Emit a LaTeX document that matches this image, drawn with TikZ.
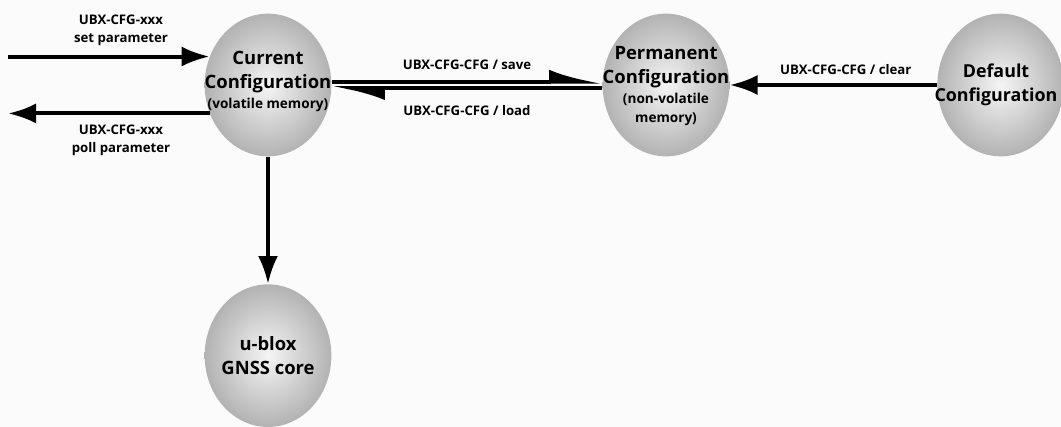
\documentclass[tikz,border=0pt]{standalone}
\usepackage{fontspec}
\setmainfont{Open Sans}
\usetikzlibrary{arrows.meta}
\usetikzlibrary{positioning}
\usetikzlibrary{shapes.geometric}
\definecolor{paper}{gray}{0.985}
\tikzset{>=latex}
\newcommand\blobwidth{95pt}
\newcommand\blobheight{107pt}
\tikzset{
    blob/.style = {ellipse, minimum width=\blobwidth, minimum height=\blobheight, inner sep=0pt, shade, inner color=black!4, outer color=black!30, on grid},
    blobtext/.style = {align=center, font=\bfseries\fontsize{13.8}{18}\selectfont},
    msg/.style = {align=center, font=\bfseries\fontsize{9.9}{13.5}\selectfont},
    flow/.style = {line width=3pt, -{Latex[length=21pt,width=15pt]}},
    halfflow/.style = {line width=3pt, -{Latex[length=32pt,width=18pt,left]}},
}
\newcommand\smalltext[1]{{\fontsize{10.2}{13}\selectfont #1}}

\begin{document}
\begin{tikzpicture}[x=0.75pt,y=-0.75pt]
    \fill[paper] (0,0) rectangle (1061,427);
    \useasboundingbox (0,0) rectangle (1061,427);
    % the four stores
    \node[blob] (cur) at (268,85) {};
    \node[blob, right=298.5pt of cur] (perm) {};
    \node[blob, right=251pt of perm] (def) {};
    \node[blob, below=203pt of cur] (core) {};
    \node[blobtext] (curtxt) at ([yshift=3pt]cur) {Current\\Configuration\\[-3pt]\smalltext{(volatile memory)}};
    \node[blobtext] (permtxt) at ([yshift=-1pt]perm) {Permanent\\Configuration\\[-3pt]\smalltext{(non-volatile}\\[-4pt]\smalltext{memory)}};
    \node[blobtext, font=\bfseries\fontsize{13.4}{18}\selectfont] (deftxt) at ([xshift=-3.5pt]def) {Default\\Configuration};
    \node[blobtext] (coretxt) at (core) {u-blox\\GNSS core};
    % messages
    \coordinate (setin) at (8,0 |- cur.154);
    \coordinate (pollout) at (8,0 |- cur.206);
    \draw[flow] (setin) -- (cur.154) node[msg, above=3pt, pos=0.56] {UBX-CFG-xxx\\set parameter};
    \draw[flow] (cur.206) -- (pollout) node[msg, below=4pt, pos=0.44] {UBX-CFG-xxx\\poll parameter};
    \draw[halfflow] ([yshift=2.5pt]cur.east) -- ([yshift=2.5pt]perm.west) node[msg, above=4pt, midway] {UBX-CFG-CFG / save};
    \draw[halfflow] ([yshift=-2.4pt]perm.west) -- ([yshift=-2.4pt]cur.east) node[msg, below=8pt, midway] {UBX-CFG-CFG / load};
    \draw[flow] (def) -- (perm) node[msg, above=3pt, pos=0.44] {UBX-CFG-CFG / clear};
    \draw[flow] (cur) -- (core);
\end{tikzpicture}
\end{document}
